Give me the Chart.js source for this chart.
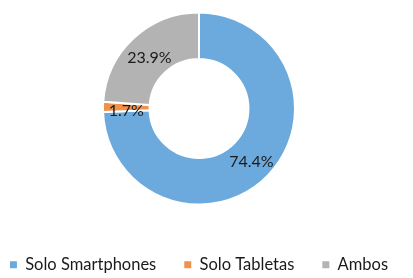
<!DOCTYPE html>
<html>
<head>
<meta charset="utf-8">
<script src="https://cdn.jsdelivr.net/npm/chart.js@4/dist/chart.umd.min.js"></script>
<style>
html,body{margin:0;padding:0;background:#fff;}
canvas{display:block;}
</style>
</head>
<body>
<canvas id="c" width="413" height="278"></canvas>
<script>
const categories = ["Solo Smartphones", "Solo Tabletas", "Ambos"];
const values = [74.4, 1.7, 23.9];
const valueLabels = ["74.4%", "1.7%", "23.9%"];
const colors = ["#6CAADD", "#F0924B", "#B3B3B3"];

const labelPlugin = {
  id: 'sliceLabels',
  afterDatasetsDraw(chart) {
    const ctx = chart.ctx;
    const meta = chart.getDatasetMeta(0);
    ctx.save();
    ctx.font = '16px Lato';
    ctx.fillStyle = '#1a1a1a';
    ctx.textAlign = 'center';
    ctx.textBaseline = 'middle';
    meta.data.forEach((arc, i) => {
      const p = arc.getCenterPoint();
      ctx.fillText(valueLabels[i], p.x, p.y + 3);
    });
    ctx.restore();
  }
};

// place the plot area (the doughnut is fitted into it by Chart.js)
const areaPlugin = {
  id: 'plotArea',
  afterLayout(chart) {
    const a = chart.chartArea;
    a.left = 102; a.right = 296; a.top = 11.5; a.bottom = 205.5;
    a.width = a.right - a.left; a.height = a.bottom - a.top;
  }
};

new Chart(document.getElementById('c'), {
  type: 'doughnut',
  data: {
    labels: categories,
    datasets: [{
      data: values,
      backgroundColor: colors,
      borderColor: '#ffffff',
      borderWidth: 2,
      cutout: '51.5%'
    }]
  },
  options: {
    responsive: false,
    animation: false,
    devicePixelRatio: 1,
    layout: { padding: { top: 0, bottom: -5, left: -20, right: -5 } },
    plugins: {
      tooltip: { enabled: false },
      legend: {
        position: 'bottom',
        labels: {
          boxWidth: 7,
          boxHeight: 7,
          padding: 28,
          color: '#1a1a1a',
          font: { family: 'Lato', size: 16.5 },
          generateLabels(chart) {
            const items = Chart.overrides.doughnut.plugins.legend.labels.generateLabels(chart);
            items.forEach(it => { it.lineWidth = 0; });
            return items;
          }
        }
      }
    }
  },
  plugins: [labelPlugin, areaPlugin]
});
</script>
</body>
</html>
